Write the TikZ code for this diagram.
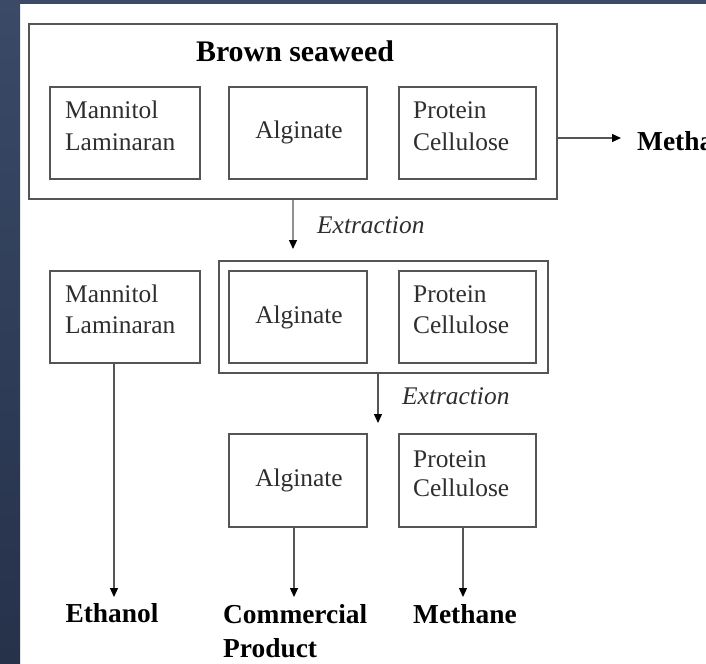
\documentclass[tikz,border=0pt]{standalone}
\usepackage{fontspec}
\setmainfont{Liberation Serif}
\usetikzlibrary{arrows.meta}
\definecolor{bgtop}{HTML}{3A4A67}
\definecolor{bgbot}{HTML}{26314A}
\definecolor{linegray}{HTML}{555555}
\definecolor{txtgray}{HTML}{2E2E2E}
\tikzset{
  box/.style={draw=linegray, line width=1.4bp, inner sep=0pt, outer sep=0pt, anchor=north west},
  lbl/.style={font=\fontsize{25.5}{31}\selectfont, text=txtgray, inner sep=0pt},
  ital/.style={font=\fontsize{25.5}{31}\selectfont\itshape, text=txtgray, inner sep=0pt},
  bld/.style={font=\fontsize{27.5}{34}\selectfont\bfseries, text=black, inner sep=0pt},
  arr/.style={draw=linegray, line width=1.3bp, -{Triangle[length=9bp,width=8bp,color=black]}}
}
\begin{document}
\begin{tikzpicture}[x=1bp,y=-1bp]
\useasboundingbox (0,0) rectangle (706,664);
\fill[white] (0,0) rectangle (706,664);
\shade[top color=bgtop,bottom color=bgbot] (0,0) rectangle (20,664);
\fill[bgtop] (0,0) rectangle (706,4);

% row 1
\node[box, minimum width=528bp, minimum height=175bp] (bs) at (29,24) {};
\node[bld, font=\fontsize{30}{36}\selectfont\bfseries, anchor=base] (bst) at (295,62) {Brown seaweed};
\node[box, minimum width=150bp, minimum height=92bp] (m1) at (50,87) {};
\node[box, minimum width=138bp, minimum height=92bp] (a1) at (229,87) {};
\node[box, minimum width=137bp, minimum height=92bp] (p1) at (399,87) {};
\node[lbl, anchor=base west] (m1a) at (65,119) {Mannitol};
\node[lbl, anchor=base west] (m1b) at (65,150) {Laminaran};
\node[lbl, anchor=base] (a1t) at (299,139) {Alginate};
\node[lbl, anchor=base west] (p1a) at (413,119) {Protein};
\node[lbl, anchor=base west] (p1b) at (413,150) {Cellulose};
\node[bld, anchor=base west] (meth1) at (637,150) {Methane};
\coordinate (mtip) at (621,138);
\draw[arr] (bs.east |- mtip) -- (mtip);

% extraction 1
\coordinate (e1tip) at (293,249);
\draw[arr] (bs.south) -- (e1tip);
\node[ital, anchor=base west] (ex1) at (317,233) {Extraction};

% row 2
\node[box, minimum width=150bp, minimum height=92bp] (m2) at (50,271) {};
\node[lbl, anchor=base west] (m2a) at (65,302) {Mannitol};
\node[lbl, anchor=base west] (m2b) at (65,333) {Laminaran};
\node[box, minimum width=329bp, minimum height=112bp] (dbl) at (219,261) {};
\node[box, minimum width=138bp, minimum height=92bp] (a2) at (229,271) {};
\node[box, minimum width=137bp, minimum height=92bp] (p2) at (399,271) {};
\node[lbl, anchor=base] (a2t) at (299,323) {Alginate};
\node[lbl, anchor=base west] (p2a) at (413,302) {Protein};
\node[lbl, anchor=base west] (p2b) at (413,333) {Cellulose};

% extraction 2
\coordinate (e2tip) at (378,423);
\draw[arr] (dbl.south -| e2tip) -- (e2tip);
\node[ital, anchor=base west] (ex2) at (402,404) {Extraction};

% row 3
\node[box, minimum width=138bp, minimum height=93bp] (a3) at (229,434) {};
\node[box, minimum width=137bp, minimum height=93bp] (p3) at (399,434) {};
\node[lbl, anchor=base] (a3t) at (299,486) {Alginate};
\node[lbl, anchor=base west] (p3a) at (413,467) {Protein};
\node[lbl, anchor=base west] (p3b) at (413,496) {Cellulose};

% products
\coordinate (ettip) at (114,597);
\coordinate (cptip) at (294,597);
\coordinate (mttip) at (463,597);
\draw[arr] (m2.south -| ettip) -- (ettip);
\draw[arr] (a3.south -| cptip) -- (cptip);
\draw[arr] (p3.south -| mttip) -- (mttip);
\node[bld, anchor=base] (eth) at (112,622) {Ethanol};
\node[bld, anchor=base west] (com) at (223,623) {Commercial};
\node[bld, anchor=base west] (prod) at (223,657) {Product};
\node[bld, anchor=base west] (meth2) at (413,623) {Methane};
\end{tikzpicture}
\end{document}
